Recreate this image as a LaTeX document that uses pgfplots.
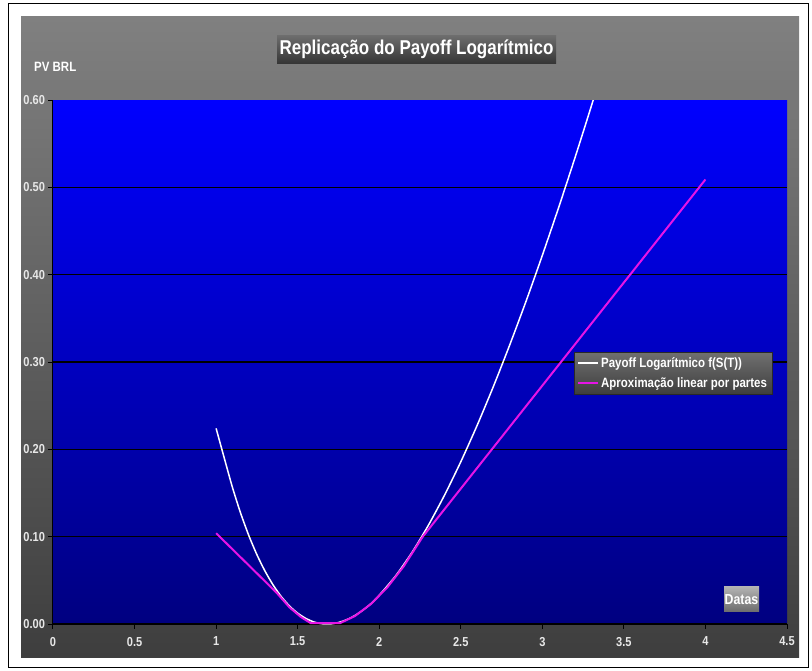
\documentclass[border=0pt]{standalone}
\usepackage{pgfplots}
\pgfplotsset{compat=1.18}
\usepackage{fontspec}
\setmainfont{Liberation Sans}[FakeStretch=0.85]
\definecolor{graytop}{RGB}{128,128,128}
\definecolor{graybot}{RGB}{62,62,62}
\definecolor{bluetop}{RGB}{0,0,255}
\definecolor{bluebot}{RGB}{0,0,128}
\definecolor{boxtop}{RGB}{108,108,108}
\definecolor{boxbot}{RGB}{52,52,52}
\definecolor{legtop}{RGB}{112,112,112}
\definecolor{legbot}{RGB}{62,62,62}
\definecolor{datatop}{RGB}{178,178,178}
\definecolor{databot}{RGB}{108,108,108}
\definecolor{magentaline}{RGB}{230,20,230}
\definecolor{ticktext}{RGB}{232,232,232}
\begin{document}
\begin{tikzpicture}
\useasboundingbox (0pt,0pt) rectangle (812pt,670pt);
\fill[white] (0pt,0pt) rectangle (812pt,670pt);
\shade[top color=graytop, bottom color=graybot] (21pt,13pt) rectangle (799pt,653pt);
\draw[black, line width=1pt] (8pt,3pt) rectangle (808pt,666pt);
% title
\shade[top color=boxtop, bottom color=boxbot] (277pt,606pt) rectangle (556pt,634pt);
\node[anchor=base, text=white, font=\bfseries\fontsize{20}{22}\selectfont, inner sep=0pt] at (416.5pt,615.5pt) {Replicação do Payoff Logarítmico};
\node[anchor=west, text=white, font=\bfseries\fontsize{13.5}{15}\selectfont, inner sep=0pt] at (34pt,603pt) {PV BRL};
\begin{axis}[
  at={(53pt,46pt)}, anchor=south west,
  scale only axis, width=734pt, height=524pt,
  xmin=0, xmax=4.5, ymin=0, ymax=0.6,
  xtick={0,0.5,1,1.5,2,2.5,3,3.5,4,4.5},
  ytick={0,0.1,0.2,0.3,0.4,0.5},
  extra y ticks={0.6},
  extra y tick labels={0.60},
  extra y tick style={grid=none},
  ymajorgrids=true,
  major grid style={black, line width=1.6pt},
  axis x line*=bottom, axis y line*=left,
  axis line style={-, black, line width=1pt},
  tick align=outside, major tick length=4.5pt,
  tick style={black, line width=1pt},
  axis background/.style={top color=bluetop, bottom color=bluebot},
  /pgf/number format/assume math mode=true,
  yticklabel style={/pgf/number format/fixed, /pgf/number format/fixed zerofill, /pgf/number format/precision=2},
  xticklabel style={yshift=-5pt, /pgf/number format/fixed},
  ticklabel style={text=ticktext, font=\bfseries\fontsize{13}{15}\selectfont},
  legend style={at={(0.7098,0.519)}, anchor=north west,
    top color=legtop, bottom color=legbot, draw={rgb,255:red,40;green,40;blue,40},
    text=white, font=\bfseries\fontsize{13.5}{15}\selectfont,
    inner xsep=3pt, inner ysep=3pt, row sep=5pt},
  legend cell align=left,
  legend image code/.code={\draw[#1] (0pt,0pt) -- (20pt,0pt);},
]
\addplot[white, line width=1.5pt, smooth, tension=0.4] coordinates {
(1.00,0.224) (1.05,0.1900) (1.10,0.1565) (1.15,0.1271) (1.20,0.1015)
(1.25,0.0794) (1.30,0.0605) (1.35,0.0445) (1.40,0.0313) (1.45,0.0206)
(1.50,0.0124) (1.55,0.0064) (1.60,0.0023) (1.65,0.0003) (1.70,0.0001)
(1.75,0.0017) (1.80,0.0049) (1.85,0.0096) (1.90,0.0158) (1.95,0.0234)
(2.00,0.0329) (2.10,0.0550) (2.20,0.0817) (2.30,0.1126) (2.40,0.1474)
(2.50,0.1857) (2.60,0.2273) (2.70,0.2720) (2.80,0.3195) (2.90,0.3695)
(3.00,0.4221) (3.10,0.4769) (3.20,0.5338) (3.30,0.5928) (3.40,0.6536)
};
\addlegendentry{Payoff Logarítmico f(S(T))}
\addplot[magentaline, line width=2pt] coordinates {
(1.00,0.104) (1.37,0.036) (1.45,0.019) (1.52,0.008) (1.58,0.001)
(1.76,0.001) (1.85,0.009) (1.95,0.023) (2.05,0.042) (2.15,0.066)
(2.267,0.100) (4.00,0.509)
};
\addlegendentry{Aproximação linear por partes}
\end{axis}
\shade[top color=datatop, bottom color=databot] (724pt,58pt) rectangle (759pt,83pt);
\node[text=white, font=\bfseries\fontsize{14.5}{16}\selectfont, inner sep=0pt] at (741.5pt,70.5pt) {Datas};
\end{tikzpicture}
\end{document}
